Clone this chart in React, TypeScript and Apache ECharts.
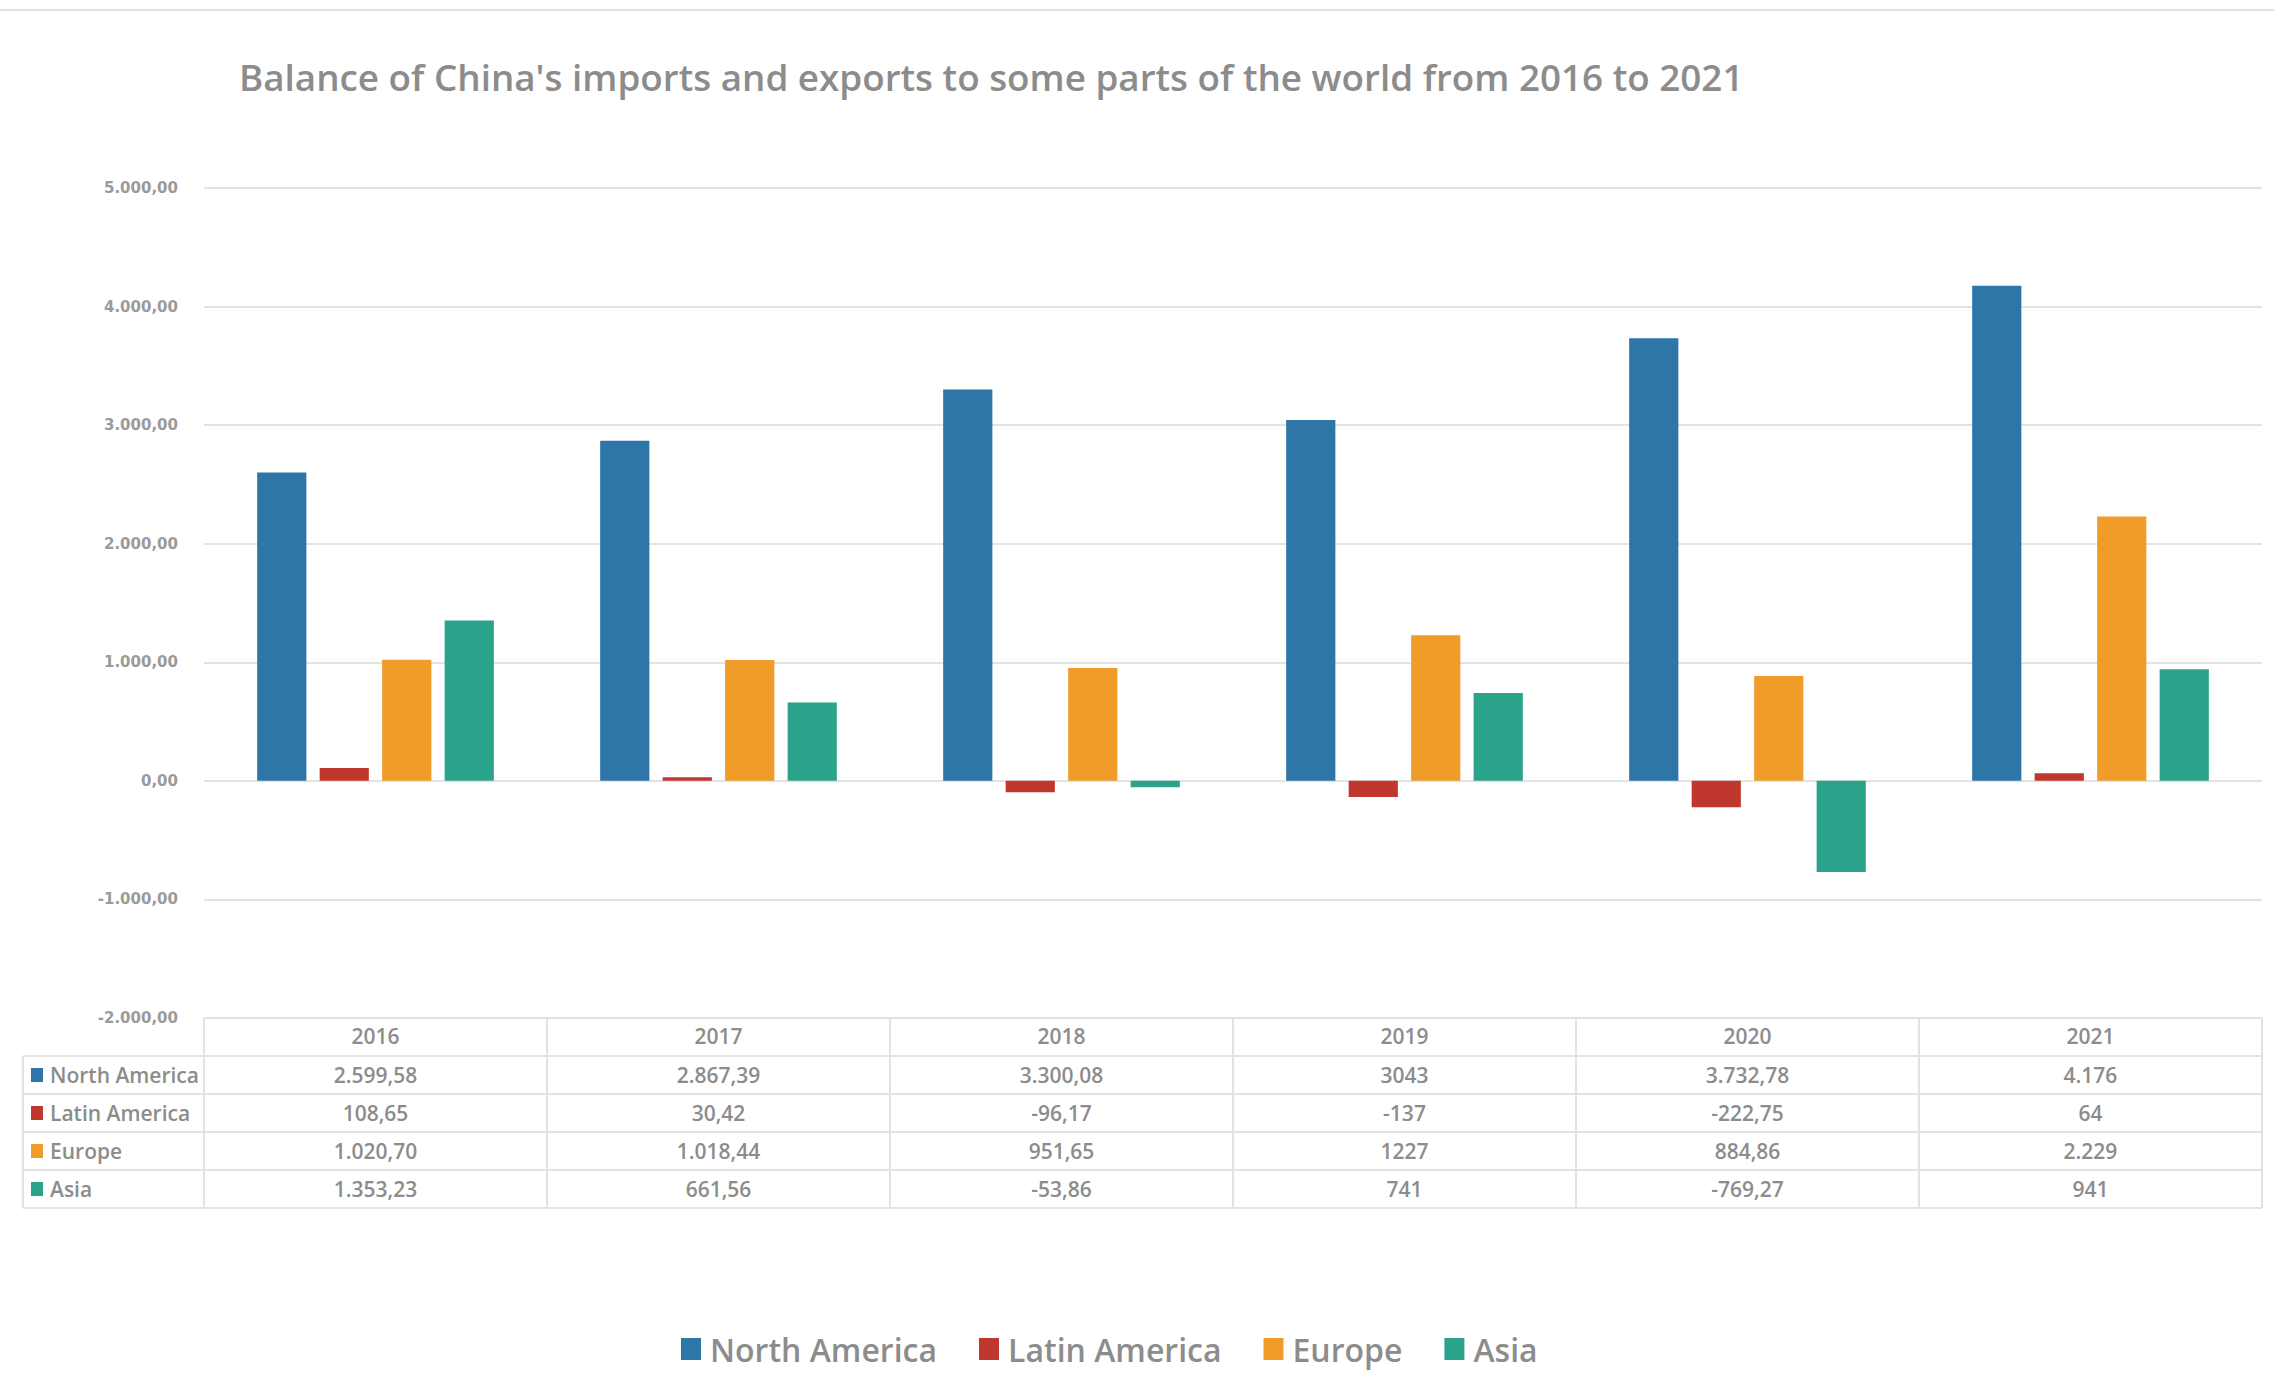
import { useEffect, useRef } from "react";
import * as echarts from "echarts";

const years = ["2016", "2017", "2018", "2019", "2020", "2021"];
const seriesNames = ["North America", "Latin America", "Europe", "Asia"];
const seriesColors = ["#2E75A8", "#C0372E", "#EF9C2A", "#2BA38A"];

const northAmerica = [2599.58, 2867.39, 3300.08, 3043, 3732.78, 4176];
const latinAmerica = [108.65, 30.42, -96.17, -137, -222.75, 64];
const europe = [1020.7, 1018.44, 951.65, 1227, 884.86, 2229];
const asia = [1353.23, 661.56, -53.86, 741, -769.27, 941];

const northAmericaLabels = ["2.599,58", "2.867,39", "3.300,08", "3043", "3.732,78", "4.176"];
const latinAmericaLabels = ["108,65", "30,42", "-96,17", "-137", "-222,75", "64"];
const europeLabels = ["1.020,70", "1.018,44", "951,65", "1227", "884,86", "2.229"];
const asiaLabels = ["1.353,23", "661,56", "-53,86", "741", "-769,27", "941"];

const yMin = -2000;
const yMax = 5000;
const yInterval = 1000;

const TITLE = "Balance of China's imports and exports to some parts of the world from 2016 to 2021";

const W = 2274;
const H = 1386;
const GRID_L = 204;
const GRID_R = 12;
const GRID_T = 188;
const GRID_BOTTOM_Y = 1018;
const ROW_H = 38;
const TABLE_LEFT = 23;
const GRAY = "#8c8c8c";
const LINE = "#e3e3e3";
const FONT = "'Open Sans', sans-serif";
const TABLE_FONT_SIZE = 21;

function fmtAxis(v: number) {
  const neg = v < 0;
  const a = Math.abs(v);
  const int = Math.floor(a)
    .toString()
    .replace(/\B(?=(\d{3})+(?!\d))/g, ".");
  return (neg ? "-" : "") + int + ",00";
}

function buildTable() {
  const rows = [northAmericaLabels, latinAmericaLabels, europeLabels, asiaLabels];
  const colW = (W - GRID_R - GRID_L) / years.length;
  const right = W - GRID_R;
  const els: any[] = [];
  const headerBottom = GRID_BOTTOM_Y + ROW_H;
  for (let r = 0; r <= rows.length; r++) {
    const y = headerBottom + r * ROW_H;
    els.push({
      type: "line",
      shape: { x1: TABLE_LEFT, y1: y, x2: right, y2: y },
      style: { stroke: LINE, lineWidth: 2 },
      silent: true,
    });
  }
  els.push({
    type: "line",
    shape: { x1: TABLE_LEFT, y1: headerBottom, x2: TABLE_LEFT, y2: headerBottom + rows.length * ROW_H },
    style: { stroke: LINE, lineWidth: 2 },
    silent: true,
  });
  rows.forEach((labels, r) => {
    const cy = headerBottom + r * ROW_H + ROW_H / 2;
    els.push({
      type: "rect",
      shape: { x: 31, y: cy - 7, width: 12, height: 14 },
      style: { fill: seriesColors[r] },
      silent: true,
    });
    els.push({
      type: "text",
      style: {
        text: seriesNames[r],
        x: 50,
        y: cy,
        align: "left",
        verticalAlign: "middle",
        fill: GRAY,
        font: `600 ${TABLE_FONT_SIZE}px ${FONT}`,
      },
      silent: true,
    });
    labels.forEach((t, c) => {
      els.push({
        type: "text",
        style: {
          text: t,
          x: GRID_L + (c + 0.5) * colW,
          y: cy,
          align: "center",
          verticalAlign: "middle",
          fill: GRAY,
          font: `600 ${TABLE_FONT_SIZE}px ${FONT}`,
        },
        silent: true,
      });
    });
  });
  els.push({
    type: "line",
    shape: { x1: 0, y1: 10, x2: W, y2: 10 },
    style: { stroke: "#e2e2e2", lineWidth: 2 },
    silent: true,
  });
  return els;
}

export default function App() {
  const ref = useRef<HTMLDivElement>(null);
  useEffect(() => {
    if (!ref.current) return;
    const chart = echarts.init(ref.current, null, { renderer: "svg" });
    const data = [northAmerica, latinAmerica, europe, asia];
    chart.setOption({
      animation: false,
      backgroundColor: "#ffffff",
      title: {
        text: TITLE,
        left: 234,
        top: 53,
        textStyle: { fontFamily: FONT, fontSize: 36.8, fontWeight: 600, color: GRAY },
      },
      legend: {
        data: seriesNames,
        left: 676,
        top: 1328,
        icon: "rect",
        itemWidth: 20,
        itemHeight: 22,
        itemGap: 42,
        textStyle: {
          fontFamily: FONT,
          fontSize: 32,
          fontWeight: 600,
          color: GRAY,
          padding: [0, 0, 0, 4],
        },
      },
      grid: { left: GRID_L, right: GRID_R, top: GRID_T, bottom: H - GRID_BOTTOM_Y, containLabel: false },
      xAxis: {
        type: "category",
        data: years,
        position: "bottom",
        axisLine: { show: true, onZero: false, lineStyle: { color: LINE, width: 2 } },
        axisTick: { show: true, interval: 0, length: 190, lineStyle: { color: LINE, width: 2 } },
        axisLabel: { margin: 7, fontFamily: FONT, fontSize: TABLE_FONT_SIZE, fontWeight: 600, color: GRAY },
      },
      yAxis: {
        type: "value",
        min: yMin,
        max: yMax,
        interval: yInterval,
        axisLine: { show: false },
        axisTick: { show: false },
        axisLabel: {
          formatter: fmtAxis,
          margin: 26,
          fontFamily: "'DejaVu Sans', sans-serif",
          fontWeight: "bold",
          fontSize: 15,
          color: "#9a9a9a",
        },
        splitLine: { show: true, lineStyle: { color: LINE, width: 2 } },
      },
      series: seriesNames.map((name, i) => ({
        name,
        type: "bar",
        data: data[i],
        barGap: "27%",
        barCategoryGap: "31%",
        itemStyle: { color: seriesColors[i] },
      })),
      graphic: buildTable(),
    });
    return () => chart.dispose();
  }, []);
  return (
    <div
      ref={ref}
      style={{ position: "fixed", left: 0, top: 0, width: W, height: H, background: "#fff" }}
    />
  );
}
